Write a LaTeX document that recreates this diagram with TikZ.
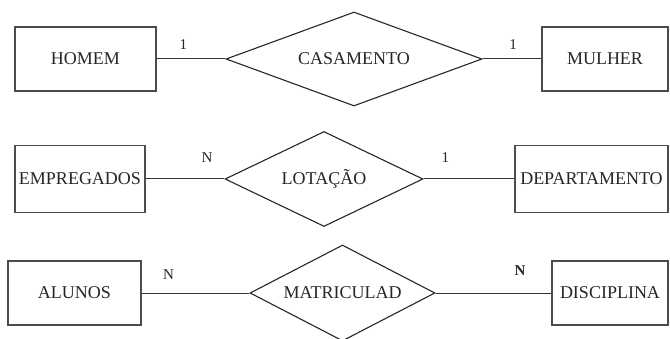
\documentclass[tikz,border=0pt]{standalone}
\usepackage{fontspec}
\setmainfont{Liberation Serif}
\usetikzlibrary{shapes.geometric,positioning}

\begin{document}
\begin{tikzpicture}[x=1pt,y=1pt,auto,
                    entity/.style={draw=black!70,line width=1.1pt,rectangle,inner sep=0pt,
                                   text=black!85,font=\fontsize{18}{21}\selectfont},
                    relation/.style={draw=black!85,line width=1.1pt,diamond,aspect=2.5,inner sep=0pt,
                                     text=black!85,font=\fontsize{18}{21}\selectfont},
                    card/.style={inner sep=1pt,text=black!85,font=\fontsize{15}{17}\selectfont},
                    every edge/.style={draw=black!80,line width=1pt}]

  \useasboundingbox (0,0) rectangle (670,338);

  % casamento
  \node[entity,minimum width=141,minimum height=64]    (homem)     at (85.5,279) {HOMEM};
  \node[relation,minimum width=256,minimum height=94]  (casamento) at (354,279)  {CASAMENTO};
  \node[entity,minimum width=126,minimum height=64]    (mulher)    at (605,279)  {MULHER};

  % lotacao
  \node[entity,minimum width=130,minimum height=67]    (empregados)   at (80,159)    {EMPREGADOS};
  \node[relation,minimum width=198,minimum height=95]  (lotacao)      at (324,159)   {LOTAÇÃO};
  \node[entity,minimum width=153,minimum height=67]    (departamento) at (591.5,159) {DEPARTAMENTO};

  % matricula
  \node[entity,minimum width=133,minimum height=64]    (alunos)     at (74.5,45) {ALUNOS};
  \node[relation,minimum width=185,minimum height=96]  (matricula)  at (342.5,45) {MATRICULAD};
  \node[entity,minimum width=116,minimum height=64]    (disciplina) at (610,45)  {DISCIPLINA};

  \path (casamento) edge node[card,above=8pt,pos=0.61]  {1} (homem)
                    edge node[card,above=8pt,pos=0.52]  {1} (mulher)
        (lotacao)   edge node[card,above=15pt,pos=0.22] {N} (empregados)
                    edge node[card,above=15pt,pos=0.24] {1} (departamento)
        (matricula) edge node[card,above=12pt,pos=0.75] {N} (alunos)
                    edge node[card,above=16pt,pos=0.73] {\textbf{N}} (disciplina);
\end{tikzpicture}
\end{document}
